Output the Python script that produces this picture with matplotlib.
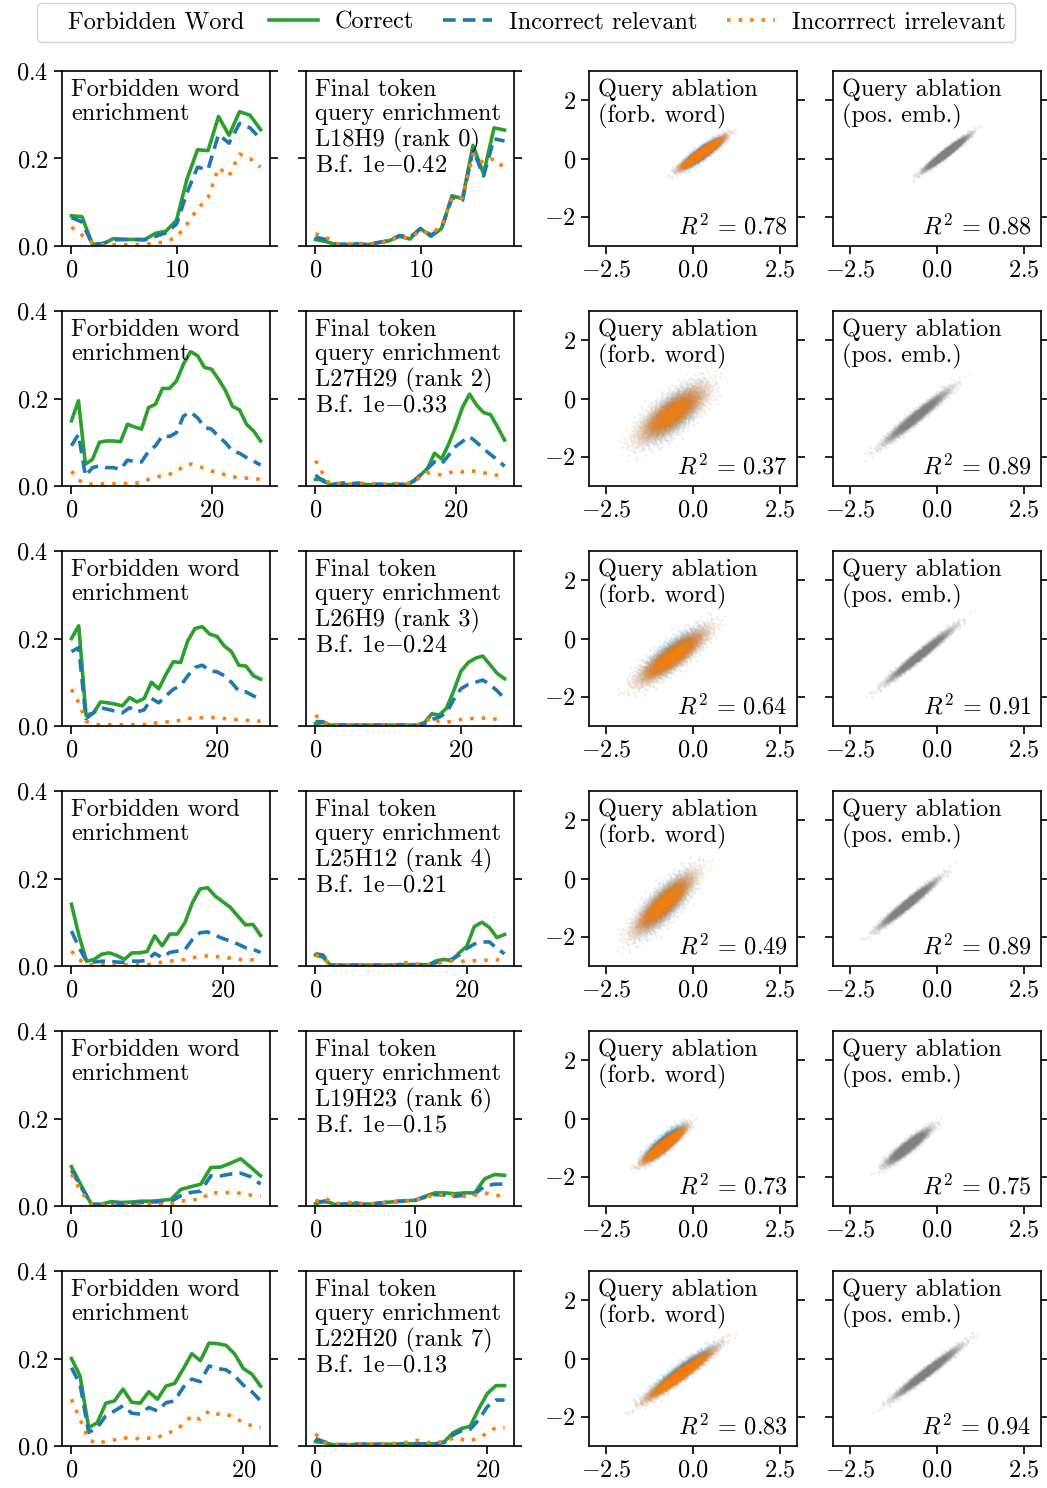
import numpy as np
import matplotlib
matplotlib.use("Agg")
import matplotlib.pyplot as plt
from matplotlib.lines import Line2D
from matplotlib.offsetbox import HPacker, DrawingArea
from matplotlib.ticker import FuncFormatter, MultipleLocator

plt.rcParams['font.family'] = 'serif'
plt.rcParams['font.serif'] = ['cmr10']
plt.rcParams['mathtext.fontset'] = 'cm'
plt.rcParams['axes.formatter.use_mathtext'] = True
plt.rcParams['font.size'] = 17.5

GREEN = '#2ca02c'
BLUE = '#1f77b4'
ORANGE = '#ff7f0e'

heads = ['L18H9 (rank 0)', 'L27H29 (rank 2)', 'L26H9 (rank 3)',
         'L25H12 (rank 4)', 'L19H23 (rank 6)', 'L22H20 (rank 7)']
bayes = ['0.42', '0.33', '0.24', '0.21', '0.15', '0.13']
r2_forb = ['0.78', '0.37', '0.64', '0.49', '0.73', '0.83']
r2_pos = ['0.88', '0.89', '0.91', '0.89', '0.75', '0.94']

# forbidden word enrichment: correct / incorrect relevant / incorrect irrelevant
fw_correct = [
    [0.069, 0.067, 0.004, 0.005, 0.017, 0.015, 0.015, 0.015, 0.029, 0.034, 0.059, 0.153, 0.22, 0.218, 0.296, 0.253, 0.307, 0.299, 0.266],
    [0.149, 0.195, 0.05, 0.061, 0.10, 0.103, 0.103, 0.101, 0.141, 0.135, 0.13, 0.179, 0.187, 0.223, 0.223, 0.24, 0.279, 0.307, 0.298, 0.271, 0.267, 0.244, 0.218, 0.182, 0.174, 0.141, 0.126, 0.103],
    [0.2, 0.229, 0.025, 0.029, 0.055, 0.053, 0.05, 0.046, 0.065, 0.055, 0.063, 0.1, 0.085, 0.118, 0.147, 0.145, 0.195, 0.223, 0.227, 0.21, 0.205, 0.183, 0.17, 0.139, 0.137, 0.115, 0.107],
    [0.141, 0.069, 0.011, 0.015, 0.027, 0.03, 0.024, 0.015, 0.03, 0.03, 0.033, 0.069, 0.046, 0.073, 0.073, 0.099, 0.145, 0.176, 0.179, 0.16, 0.147, 0.134, 0.114, 0.094, 0.095, 0.07],
    [0.09, 0.046, 0.004, 0.004, 0.01, 0.008, 0.009, 0.011, 0.011, 0.013, 0.015, 0.038, 0.044, 0.05, 0.088, 0.089, 0.098, 0.108, 0.089, 0.069],
    [0.2, 0.16, 0.042, 0.053, 0.098, 0.103, 0.13, 0.1, 0.098, 0.124, 0.107, 0.137, 0.143, 0.176, 0.211, 0.195, 0.235, 0.234, 0.23, 0.21, 0.177, 0.164, 0.137],
]
fw_relevant = [
    [0.065, 0.055, 0.003, 0.006, 0.014, 0.015, 0.015, 0.014, 0.022, 0.03, 0.05, 0.122, 0.18, 0.175, 0.255, 0.235, 0.28, 0.27, 0.245],
    [0.092, 0.118, 0.023, 0.042, 0.046, 0.042, 0.042, 0.038, 0.059, 0.056, 0.055, 0.079, 0.092, 0.115, 0.113, 0.122, 0.16, 0.169, 0.156, 0.134, 0.13, 0.113, 0.099, 0.08, 0.075, 0.065, 0.057, 0.048],
    [0.17, 0.179, 0.017, 0.03, 0.042, 0.038, 0.034, 0.03, 0.042, 0.032, 0.037, 0.063, 0.053, 0.069, 0.084, 0.092, 0.115, 0.134, 0.139, 0.126, 0.124, 0.115, 0.1, 0.08, 0.078, 0.069, 0.061],
    [0.08, 0.042, 0.011, 0.009, 0.011, 0.011, 0.009, 0.008, 0.011, 0.011, 0.013, 0.029, 0.019, 0.031, 0.034, 0.037, 0.061, 0.076, 0.078, 0.07, 0.063, 0.057, 0.05, 0.042, 0.038, 0.031],
    [0.082, 0.042, 0.004, 0.003, 0.006, 0.005, 0.006, 0.008, 0.009, 0.01, 0.01, 0.024, 0.031, 0.034, 0.069, 0.069, 0.073, 0.075, 0.067, 0.05],
    [0.179, 0.141, 0.031, 0.042, 0.069, 0.08, 0.092, 0.075, 0.073, 0.088, 0.08, 0.099, 0.103, 0.134, 0.153, 0.147, 0.183, 0.177, 0.174, 0.16, 0.139, 0.124, 0.103],
]
fw_irrelevant = [
    [0.043, 0.025, 0.008, 0.003, 0.003, 0.003, 0.003, 0.004, 0.006, 0.01, 0.02, 0.05, 0.085, 0.11, 0.179, 0.16, 0.21, 0.2, 0.18],
    [0.034, 0.014, 0.004, 0.004, 0.005, 0.005, 0.005, 0.006, 0.006, 0.006, 0.008, 0.015, 0.02, 0.024, 0.027, 0.032, 0.046, 0.05, 0.046, 0.04, 0.034, 0.031, 0.025, 0.021, 0.019, 0.018, 0.017, 0.015],
    [0.084, 0.053, 0.011, 0.004, 0.003, 0.003, 0.003, 0.003, 0.003, 0.003, 0.003, 0.008, 0.006, 0.009, 0.011, 0.013, 0.017, 0.018, 0.019, 0.019, 0.019, 0.017, 0.015, 0.014, 0.013, 0.012, 0.011],
    [0.034, 0.015, 0.004, 0.003, 0.003, 0.003, 0.003, 0.003, 0.003, 0.003, 0.003, 0.005, 0.009, 0.011, 0.013, 0.015, 0.019, 0.021, 0.023, 0.021, 0.021, 0.018, 0.015, 0.015, 0.014, 0.015],
    [0.073, 0.031, 0.004, 0.003, 0.003, 0.002, 0.003, 0.003, 0.004, 0.004, 0.005, 0.011, 0.014, 0.015, 0.031, 0.029, 0.031, 0.029, 0.025, 0.023],
    [0.107, 0.061, 0.015, 0.005, 0.011, 0.014, 0.019, 0.017, 0.017, 0.018, 0.019, 0.029, 0.034, 0.05, 0.069, 0.061, 0.08, 0.073, 0.073, 0.065, 0.053, 0.046, 0.042],
]

# final token query enrichment
q_correct = [
    [0.015, 0.01, 0.003, 0.003, 0.004, 0.003, 0.008, 0.012, 0.022, 0.016, 0.04, 0.022, 0.04, 0.115, 0.108, 0.23, 0.165, 0.27, 0.265],
    [0.015, 0.015, 0.003, 0.003, 0.004, 0.003, 0.004, 0.003, 0.003, 0.003, 0.003, 0.003, 0.003, 0.003, 0.01, 0.025, 0.04, 0.075, 0.062, 0.095, 0.135, 0.18, 0.21, 0.185, 0.168, 0.163, 0.135, 0.105],
    [0.005, 0.008, 0.002, 0.002, 0.002, 0.002, 0.002, 0.002, 0.002, 0.002, 0.002, 0.002, 0.002, 0.002, 0.002, 0.008, 0.028, 0.025, 0.04, 0.08, 0.125, 0.145, 0.155, 0.16, 0.14, 0.12, 0.108],
    [0.025, 0.02, 0.002, 0.002, 0.002, 0.002, 0.002, 0.002, 0.002, 0.002, 0.002, 0.003, 0.003, 0.003, 0.003, 0.003, 0.012, 0.015, 0.012, 0.03, 0.045, 0.09, 0.1, 0.088, 0.065, 0.072],
    [0.005, 0.012, 0.003, 0.004, 0.006, 0.004, 0.005, 0.008, 0.01, 0.012, 0.013, 0.022, 0.03, 0.03, 0.028, 0.03, 0.03, 0.062, 0.072, 0.07],
    [0.01, 0.008, 0.003, 0.003, 0.003, 0.004, 0.004, 0.004, 0.004, 0.004, 0.005, 0.005, 0.005, 0.005, 0.005, 0.01, 0.03, 0.04, 0.045, 0.085, 0.12, 0.138, 0.138],
]
q_relevant = [
    [0.02, 0.015, 0.004, 0.004, 0.005, 0.003, 0.008, 0.012, 0.024, 0.02, 0.04, 0.025, 0.04, 0.11, 0.105, 0.22, 0.16, 0.245, 0.24],
    [0.025, 0.012, 0.003, 0.005, 0.007, 0.005, 0.007, 0.005, 0.004, 0.004, 0.004, 0.004, 0.004, 0.004, 0.012, 0.025, 0.04, 0.055, 0.05, 0.07, 0.09, 0.102, 0.113, 0.1, 0.085, 0.072, 0.06, 0.045],
    [0.01, 0.01, 0.002, 0.002, 0.002, 0.002, 0.002, 0.002, 0.002, 0.002, 0.002, 0.002, 0.002, 0.002, 0.002, 0.005, 0.015, 0.02, 0.03, 0.06, 0.085, 0.095, 0.1, 0.105, 0.095, 0.08, 0.063],
    [0.028, 0.025, 0.002, 0.002, 0.002, 0.002, 0.002, 0.002, 0.002, 0.002, 0.002, 0.003, 0.003, 0.003, 0.003, 0.004, 0.008, 0.012, 0.015, 0.025, 0.04, 0.05, 0.055, 0.055, 0.04, 0.028],
    [0.01, 0.01, 0.003, 0.005, 0.007, 0.004, 0.006, 0.008, 0.01, 0.012, 0.013, 0.02, 0.026, 0.025, 0.022, 0.025, 0.028, 0.045, 0.05, 0.05],
    [0.017, 0.01, 0.003, 0.003, 0.003, 0.004, 0.004, 0.004, 0.004, 0.004, 0.004, 0.005, 0.005, 0.005, 0.005, 0.008, 0.025, 0.035, 0.038, 0.06, 0.09, 0.105, 0.105],
]
q_irrelevant = [
    [0.028, 0.02, 0.005, 0.004, 0.007, 0.003, 0.008, 0.01, 0.022, 0.018, 0.035, 0.028, 0.045, 0.11, 0.11, 0.21, 0.19, 0.2, 0.178],
    [0.058, 0.03, 0.005, 0.006, 0.005, 0.004, 0.005, 0.005, 0.004, 0.003, 0.004, 0.005, 0.006, 0.005, 0.01, 0.02, 0.03, 0.028, 0.025, 0.03, 0.033, 0.032, 0.035, 0.033, 0.03, 0.028, 0.024, 0.018],
    [0.025, 0.01, 0.002, 0.002, 0.002, 0.002, 0.002, 0.002, 0.002, 0.002, 0.002, 0.002, 0.002, 0.002, 0.002, 0.008, 0.02, 0.01, 0.008, 0.012, 0.015, 0.016, 0.018, 0.018, 0.018, 0.015, 0.012],
    [0.025, 0.02, 0.002, 0.002, 0.002, 0.002, 0.002, 0.002, 0.002, 0.002, 0.002, 0.005, 0.008, 0.004, 0.004, 0.003, 0.005, 0.01, 0.012, 0.01, 0.012, 0.012, 0.013, 0.013, 0.014, 0.014],
    [0.01, 0.018, 0.005, 0.008, 0.008, 0.004, 0.006, 0.008, 0.01, 0.012, 0.012, 0.02, 0.025, 0.025, 0.025, 0.022, 0.025, 0.03, 0.025, 0.022],
    [0.028, 0.01, 0.003, 0.004, 0.003, 0.004, 0.006, 0.004, 0.005, 0.006, 0.006, 0.01, 0.013, 0.008, 0.008, 0.01, 0.018, 0.015, 0.012, 0.018, 0.03, 0.042, 0.042],
]

# scatter cloud shapes: centre x, centre y, x spread, slope, residual spread
forb_rel_cloud = [(0.25, 0.2, 0.28, 0.8, 0.11), (-0.6, -0.5, 0.45, 0.75, 0.33), (-0.6, -0.55, 0.45, 0.8, 0.25),
                  (-0.85, -0.85, 0.4, 1.0, 0.3), (-0.85, -0.85, 0.27, 0.9, 0.14), (-0.35, -0.45, 0.45, 0.85, 0.14)]
forb_irr_cloud = [(0.25, 0.2, 0.28, 0.8, 0.08), (-0.6, -0.5, 0.45, 0.75, 0.27), (-0.6, -0.6, 0.45, 0.8, 0.2),
                  (-0.85, -0.85, 0.4, 1.0, 0.24), (-0.85, -0.9, 0.27, 0.9, 0.1), (-0.4, -0.55, 0.45, 0.85, 0.11)]
pos_cloud = [(0.25, 0.2, 0.3, 0.9, 0.07), (-0.6, -0.6, 0.45, 0.95, 0.11), (-0.5, -0.55, 0.45, 0.95, 0.09),
             (-0.85, -0.85, 0.4, 0.95, 0.09), (-0.85, -0.95, 0.3, 0.9, 0.11), (-0.3, -0.45, 0.45, 0.9, 0.09)]


def cloud(params, n, start):
    # deterministic gaussian-looking cloud (box-muller on a low discrepancy sequence)
    cx, cy, sx, slope, sr = params
    i = np.arange(start, start + n)
    u1 = np.clip((i * 0.7548776662466927) % 1.0, 2e-3, 1.0)
    u2 = (i * 0.5698402909980532) % 1.0
    r = np.sqrt(-2 * np.log(u1))
    t = r * np.cos(2 * np.pi * u2)
    w = r * np.sin(2 * np.pi * u2)
    x = cx + sx * t
    y = cy + slope * (x - cx) + sr * w
    return x, y


mfmt1 = FuncFormatter(lambda v, p: '$%.1f$' % v)

W, H = 1047, 1488
fig = plt.figure(figsize=(W / 100, H / 100), dpi=100)

col_left = [62, 306, 589, 833]
row_top = [71, 311, 551, 791, 1031, 1271]
aw, ah = 208, 175
LW = 2.6
DASH = (0, (3.5, 2))
DOT = (0, (1, 2.2))


def make_ax(r, c):
    ax = fig.add_axes([col_left[c] / W, 1 - (row_top[r] + ah) / H, aw / W, ah / H])
    ax.tick_params(axis='y', right=True, direction='out', length=6, width=1.2)
    ax.tick_params(axis='x', direction='out', length=6, width=1.2)
    for s in ax.spines.values():
        s.set_linewidth(1.2)
    return ax


for r in range(6):
    # line panels
    for c, (g, b, o) in enumerate([(fw_correct[r], fw_relevant[r], fw_irrelevant[r]),
                                    (q_correct[r], q_relevant[r], q_irrelevant[r])]):
        ax = make_ax(r, c)
        x = np.arange(len(g))
        ax.plot(x, g, color=GREEN, lw=LW, ls='-')
        ax.plot(x, b, color=BLUE, lw=LW, ls=DASH)
        ax.plot(x, o, color=ORANGE, lw=LW, ls=DOT)
        ax.set_ylim(0, 0.4)
        ax.set_yticks([0, 0.2, 0.4])
        ax.xaxis.set_major_locator(MultipleLocator(10 if len(g) < 21 else 20))
        if c == 1:
            ax.set_yticklabels([])
            txt = 'Final token\nquery enrichment\n' + heads[r] + '\nB.f. 1e$-$' + bayes[r]
        else:
            ax.yaxis.set_major_formatter(mfmt1)
            txt = 'Forbidden word\nenrichment'
        ax.text(0.045, 0.955, txt, transform=ax.transAxes, va='top', ha='left', linespacing=1.12)

    # scatter panels
    for c in (2, 3):
        ax = make_ax(r, c)
        if c == 2:
            xb, yb = cloud(forb_rel_cloud[r], 2500, 17 + r * 5000)
            ax.scatter(xb, yb, s=5, color=BLUE, alpha=0.08, linewidths=0)
            xo, yo = cloud(forb_irr_cloud[r], 2500, 2517 + r * 5000)
            ax.scatter(xo, yo, s=5, color=ORANGE, alpha=0.1, linewidths=0)
            title, r2 = 'Query ablation\n(forb. word)', r2_forb[r]
        else:
            xg, yg = cloud(pos_cloud[r], 3000, 91 + r * 7000)
            ax.scatter(xg, yg, s=5, color='gray', alpha=0.07, linewidths=0)
            title, r2 = 'Query ablation\n(pos. emb.)', r2_pos[r]
        ax.text(0.045, 0.955, title, transform=ax.transAxes, va='top', ha='left', linespacing=1.12)
        ax.text(0.955, 0.04, r'$R^2\,=\,' + r2 + '$', transform=ax.transAxes,
                va='bottom', ha='right')
        ax.set_xlim(-3, 3)
        ax.set_ylim(-3, 3)
        ax.set_xticks([-2.5, 0, 2.5])
        ax.set_yticks([-2, 0, 2])
        ax.xaxis.set_major_formatter(mfmt1)
        if c == 3:
            ax.set_yticklabels([])

handles = [Line2D([], [], color=GREEN, lw=LW),
           Line2D([], [], color=BLUE, lw=LW, ls=DASH),
           Line2D([], [], color=ORANGE, lw=LW, ls=DOT)]
labels = ['Correct', 'Incorrect relevant', 'Incorrrect irrelevant']
fs = plt.rcParams['font.size']
leg = fig.legend(handles, labels, loc='upper center', bbox_to_anchor=(0.502, 0.998), ncol=3,
                 title='Forbidden Word', title_fontsize=fs, frameon=True, fancybox=True,
                 handlelength=2.0, columnspacing=1.2, handletextpad=0.7, borderpad=0.35,
                 borderaxespad=0)
# put the title in line with the entries
old = leg._legend_box
kids = old.get_children()
inner = HPacker(pad=0, sep=18, align='center', children=kids)
new = HPacker(pad=old.pad, sep=16.5, align='center', children=[DrawingArea(0, 1), inner])
new.set_figure(fig)
new.axes = leg.axes
leg._legend_box = new
new.set_offset(leg._findoffset)

fig.savefig('out.png', dpi=100)
